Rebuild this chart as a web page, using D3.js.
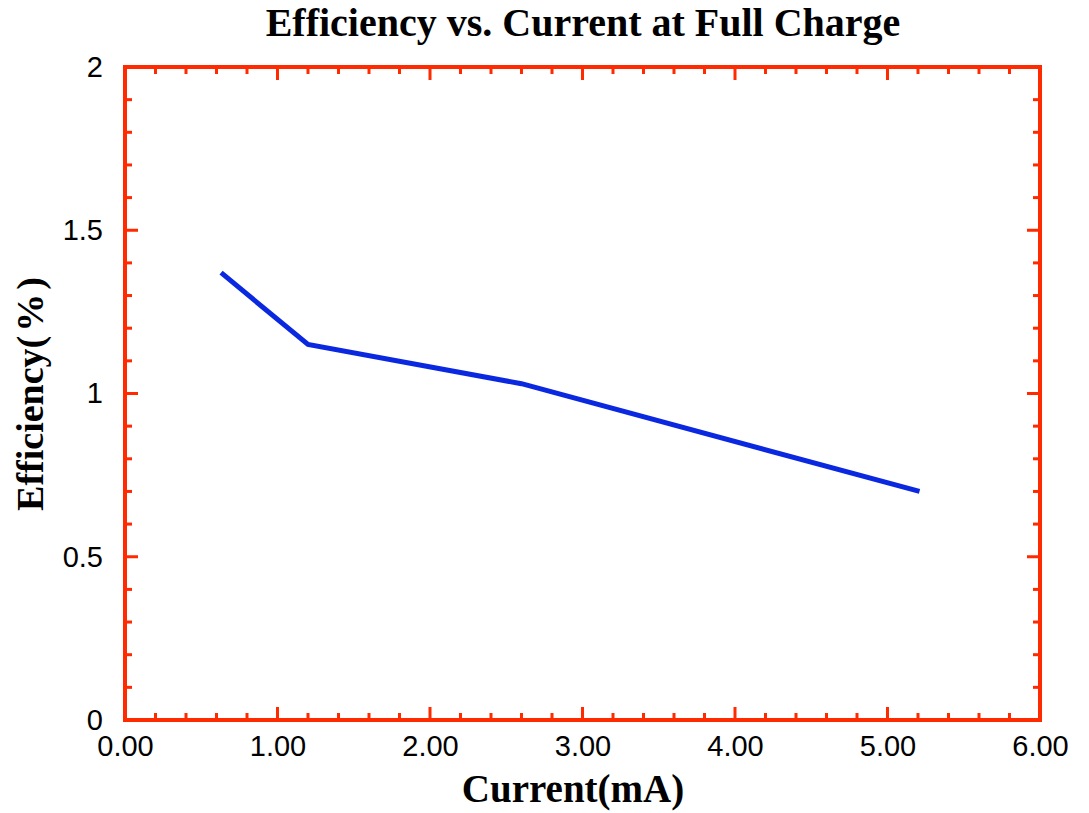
<!DOCTYPE html>
<html>
<head>
<meta charset="utf-8">
<script src="https://cdn.jsdelivr.net/npm/d3@7"></script>
<style>
  html, body { margin: 0; padding: 0; background: #fff; }
  svg { display: block; }
</style>
</head>
<body>
<svg id="chart" width="1089" height="813"></svg>
<script>
// Measured efficiency at full charge for several discharge currents
const currentMA = [0.63, 1.20, 2.60, 5.21];
const efficiencyPct = [1.37, 1.15, 1.03, 0.70];

const xTickValues = [0, 1, 2, 3, 4, 5, 6];
const xTickLabels = ["0.00", "1.00", "2.00", "3.00", "4.00", "5.00", "6.00"];
const yTickValues = [0, 0.5, 1, 1.5, 2];
const yTickLabels = ["0", "0.5", "1", "1.5", "2"];

const axisColor = "#ff2a00";
const lineColor = "#0a28e0";

const svg = d3.select("#chart");
const plotLeft = 125, plotRight = 1040, plotTop = 67, plotBottom = 720;

const x = d3.scaleLinear().domain([0, 6]).range([plotLeft, plotRight]);
const y = d3.scaleLinear().domain([0, 2]).range([plotBottom, plotTop]);

// Inward ticks on all four sides: minor every 0.2 (x) / 0.1 (y)
const xMinor = d3.range(0, 6.0001, 0.2);
const yMinor = d3.range(0, 2.0001, 0.1);
const isMajor = (v, step) => Math.abs(v / step - Math.round(v / step)) < 1e-6;

const ticks = svg.append("g").attr("stroke", axisColor).attr("stroke-width", 3);
xMinor.forEach(v => {
  const len = isMajor(v, 1) ? 13 : 7;
  ticks.append("line").attr("x1", x(v)).attr("x2", x(v)).attr("y1", plotBottom).attr("y2", plotBottom - len);
  ticks.append("line").attr("x1", x(v)).attr("x2", x(v)).attr("y1", plotTop).attr("y2", plotTop + len);
});
yMinor.forEach(v => {
  const len = isMajor(v, 0.5) ? 13 : 7;
  ticks.append("line").attr("y1", y(v)).attr("y2", y(v)).attr("x1", plotLeft).attr("x2", plotLeft + len);
  ticks.append("line").attr("y1", y(v)).attr("y2", y(v)).attr("x1", plotRight).attr("x2", plotRight - len);
});

// Frame
svg.append("rect")
  .attr("x", plotLeft).attr("y", plotTop)
  .attr("width", plotRight - plotLeft).attr("height", plotBottom - plotTop)
  .attr("fill", "none").attr("stroke", axisColor).attr("stroke-width", 4);

// Tick labels through d3 axes
const sans = "'Liberation Sans', Arial, sans-serif";
const xAxis = d3.axisBottom(x).tickValues(xTickValues)
  .tickFormat((d, i) => xTickLabels[i]).tickSize(0).tickPadding(15);
const gx = svg.append("g").attr("transform", `translate(0,${plotBottom})`).call(xAxis);
gx.select(".domain").remove();
gx.selectAll("text").attr("fill", "#000")
  .style("font-family", sans).style("font-size", "29px");

const yAxis = d3.axisLeft(y).tickValues(yTickValues)
  .tickFormat((d, i) => yTickLabels[i]).tickSize(0).tickPadding(22);
const gy = svg.append("g").attr("transform", `translate(${plotLeft},0)`).call(yAxis);
gy.select(".domain").remove();
gy.selectAll("text").attr("fill", "#000")
  .style("font-family", sans).style("font-size", "29px");

// Data line
const line = d3.line().x((d, i) => x(currentMA[i])).y(d => y(d));
svg.append("path")
  .datum(efficiencyPct)
  .attr("d", line)
  .attr("fill", "none")
  .attr("stroke", lineColor)
  .attr("stroke-width", 5)
  .attr("stroke-linejoin", "miter");

// Titles
const serif = "'Liberation Serif', 'Times New Roman', serif";
svg.append("text")
  .attr("x", 583).attr("y", 36)
  .attr("text-anchor", "middle")
  .style("font-family", serif).style("font-weight", "bold").style("font-size", "40px")
  .text("Efficiency vs. Current at Full Charge");

svg.append("text")
  .attr("x", 573).attr("y", 802)
  .attr("text-anchor", "middle")
  .style("font-family", serif).style("font-weight", "bold").style("font-size", "39px")
  .text("Current(mA)");

const yTitle = svg.append("text")
  .attr("transform", "translate(43,394) rotate(-90)")
  .attr("text-anchor", "middle")
  .style("font-family", serif).style("font-weight", "bold").style("font-size", "38px");
yTitle.append("tspan").text("Efficiency(");
yTitle.append("tspan").attr("dx", 4).text("%");
yTitle.append("tspan").attr("dx", 4).text(")");
</script>
</body>
</html>
